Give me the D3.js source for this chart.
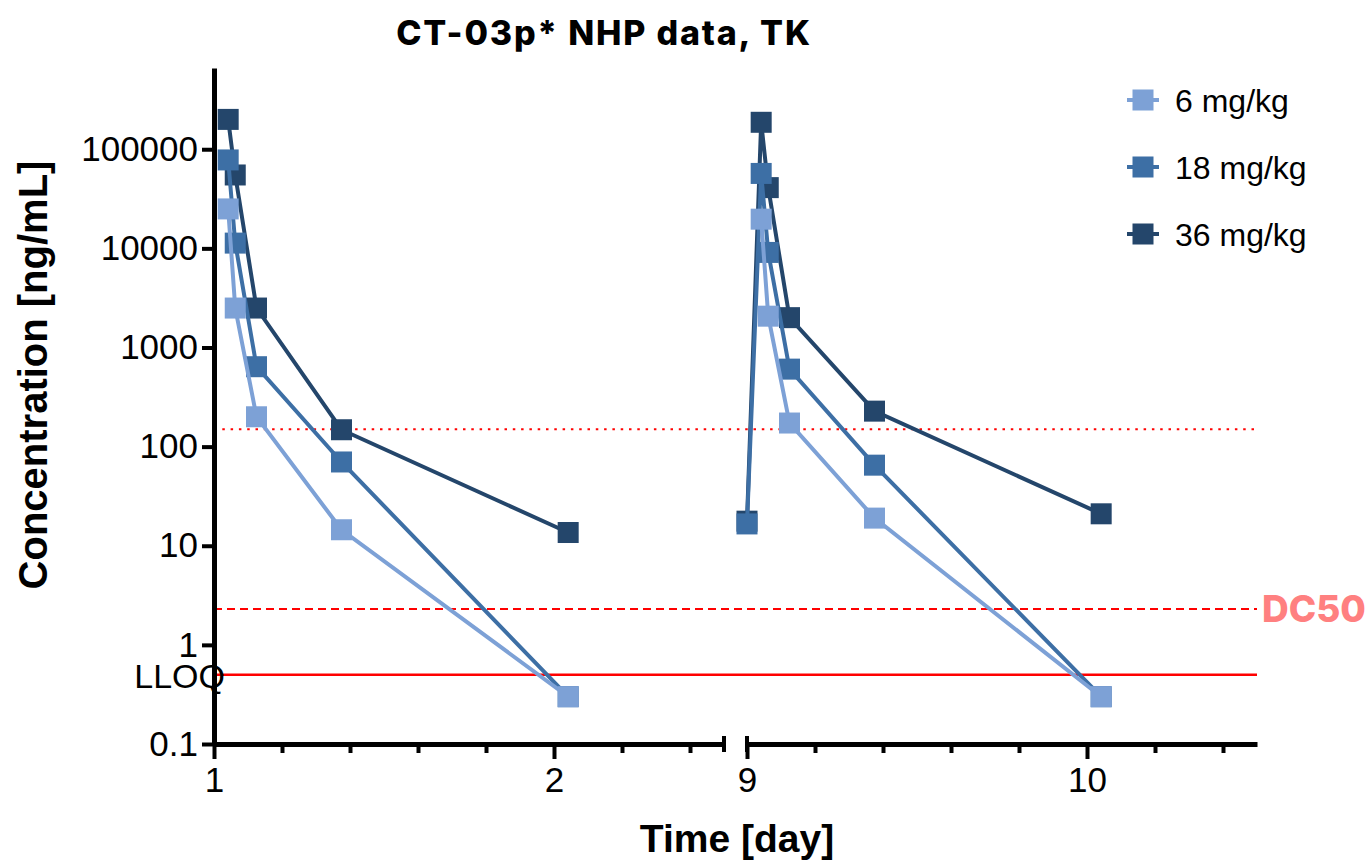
<!DOCTYPE html>
<html>
<head>
<meta charset="utf-8">
<script src="https://cdn.jsdelivr.net/npm/d3@7"></script>
<style>
  body { margin: 0; background: #fff; }
  text { font-family: "Liberation Sans", Arial, sans-serif; }
</style>
</head>
<body>
<script>
// sampling times in days (first dose panel, second dose panel)
var times1 = [1.0417, 1.0625, 1.125, 1.375, 2.0417];
var times2 = [9, 9.0417, 9.0625, 9.125, 9.375, 10.0417];

var doses = ["6 mg/kg", "18 mg/kg", "36 mg/kg"];
var colors = ["#7da1d6", "#3d6fa5", "#24466b"];

// plasma concentration, ng/mL (values below LLOQ plotted at 0.3)
var conc6_d1 = [25000, 2500, 200, 14.5, 0.3];
var conc6_d9 = [null, 19700, 2070, 173, 19, 0.3];
var conc18_d1 = [78000, 11300, 640, 70, 0.3];
var conc18_d9 = [16.6, 57000, 9100, 605, 65, 0.3];
var conc36_d1 = [200000, 55000, 2500, 148, 13.6];
var conc36_d9 = [17.7, 187000, 41000, 2000, 228, 21];

var yTicks = [0.1, 1, 10, 100, 1000, 10000, 100000];
var xMajor1 = [1, 2], xMinor1 = [1.2, 1.4, 1.6, 1.8, 2.2, 2.4];
var xMajor2 = [9, 10], xMinor2 = [9.2, 9.4, 9.6, 9.8, 10.2, 10.4];

var lloq = 0.5;
var dc50 = 2.3;
var dotted = 150;

var W = 1367, H = 862;
var svg = d3.select("body").append("svg")
            .attr("width", W)
            .attr("height", H);

// two broken x segments and a log y
var x1 = d3.scaleLinear().domain([1, 2.5]).range([214, 724]);
var x2 = d3.scaleLinear().domain([9, 10.5]).range([747, 1257]);
var y = d3.scaleLog().domain([0.1, 6.6e5]).range([744, 68]);

// reference lines
var refs = [
  {v: dotted, dash: "2.5,5.8", w: 2},
  {v: dc50, dash: "8,5", w: 2},
  {v: lloq, dash: null, w: 2.5}
];
svg.selectAll("line.ref")
   .data(refs)
   .enter().append("line")
   .attr("class", "ref")
   .attr("x1", x1(1))
   .attr("x2", x2(10.5))
   .attr("y1", function(d) { return y(d.v); })
   .attr("y2", function(d) { return y(d.v); })
   .attr("stroke", "#ff0000")
   .attr("stroke-width", function(d) { return d.w; })
   .attr("stroke-dasharray", function(d) { return d.dash; });

svg.append("text")
   .attr("x", 1262)
   .attr("y", y(dc50))
   .attr("dy", "0.36em")
   .style("font-family", "Inter, 'Open Sans', sans-serif")
   .style("font-weight", 800)
   .style("font-size", "37px")
   .attr("fill", "#ff8080")
   .text("DC50");

svg.append("text")
   .attr("x", 225)
   .attr("y", y(lloq))
   .attr("dy", "0.38em")
   .attr("text-anchor", "end")
   .style("font-size", "34px")
   .text("LLOQ");

// y axis
var yAxis = svg.append("g")
   .attr("transform", "translate(" + x1(1) + ",0)")
   .call(d3.axisLeft(y).tickValues(yTicks).tickSize(12).tickSizeOuter(0).tickPadding(4)
           .tickFormat(function(d) { return String(d); }));
yAxis.select(".domain").attr("stroke-width", 5);
yAxis.selectAll(".tick line").attr("stroke-width", 4);
yAxis.selectAll(".tick text").style("font-size", "35px").style("font-family", "'Liberation Sans', Arial, sans-serif");

// x axis segments
function drawX(scale, major, minor, capStart, capEnd) {
  var g = svg.append("g").attr("transform", "translate(0," + y(0.1) + ")");
  g.call(d3.axisBottom(scale).tickValues(major).tickSize(15).tickSizeOuter(0).tickPadding(8)
           .tickFormat(d3.format("d")));
  g.select(".domain").attr("stroke-width", 5);
  g.selectAll(".tick line").attr("stroke-width", 4);
  g.selectAll(".tick text").style("font-size", "35px").style("font-family", "'Liberation Sans', Arial, sans-serif");

  var m = svg.append("g").attr("transform", "translate(0," + y(0.1) + ")");
  m.call(d3.axisBottom(scale).tickValues(minor).tickSize(9).tickFormat(""));
  m.select(".domain").remove();
  m.selectAll(".tick line").attr("stroke-width", 4);

  var caps = [];
  if (capStart) caps.push(scale.domain()[0]);
  if (capEnd) caps.push(scale.domain()[1]);
  g.selectAll("line.cap")
   .data(caps)
   .enter().append("line")
   .attr("class", "cap")
   .attr("x1", function(d) { return scale(d); })
   .attr("x2", function(d) { return scale(d); })
   .attr("y1", -8)
   .attr("y2", 8)
   .attr("stroke", "#000")
   .attr("stroke-width", 4);
}
drawX(x1, xMajor1, xMinor1, false, true);
drawX(x2, xMajor2, xMinor2, true, false);

// series, darkest drawn first
var series = [
  {name: doses[0], color: colors[0], d1: conc6_d1, d9: conc6_d9},
  {name: doses[1], color: colors[1], d1: conc18_d1, d9: conc18_d9},
  {name: doses[2], color: colors[2], d1: conc36_d1, d9: conc36_d9}
];

function pts(times, vals) {
  return times.map(function(t, i) { return {t: t, v: vals[i]}; })
              .filter(function(d) { return d.v != null; });
}

var sq = 21;
series.slice().reverse().forEach(function(s) {
  var g = svg.append("g");
  [[x1, pts(times1, s.d1)], [x2, pts(times2, s.d9)]].forEach(function(p) {
    var sc = p[0], data = p[1];
    var line = d3.line()
                 .x(function(d) { return sc(d.t); })
                 .y(function(d) { return y(d.v); });
    g.append("path")
     .datum(data)
     .attr("d", line)
     .attr("fill", "none")
     .attr("stroke", s.color)
     .attr("stroke-width", 4);
    g.selectAll(null)
     .data(data)
     .enter().append("rect")
     .attr("x", function(d) { return sc(d.t) - sq / 2; })
     .attr("y", function(d) { return y(d.v) - sq / 2; })
     .attr("width", sq)
     .attr("height", sq)
     .attr("fill", s.color);
  });
});

// legend
var legend = svg.selectAll("g.legend")
                .data(series)
                .enter().append("g")
                .attr("class", "legend")
                .attr("transform", function(d, i) { return "translate(1143," + (100 + i * 67) + ")"; });
legend.append("line")
      .attr("x1", -16).attr("x2", 16)
      .attr("stroke", function(d) { return d.color; })
      .attr("stroke-width", 4);
legend.append("rect")
      .attr("x", -sq / 2).attr("y", -sq / 2)
      .attr("width", sq).attr("height", sq)
      .attr("fill", function(d) { return d.color; });
legend.append("text")
      .attr("x", 32)
      .attr("dy", "0.36em")
      .style("font-size", "32px")
      .text(function(d) { return d.name; });

// titles
svg.append("text")
   .attr("x", 604)
   .attr("y", 45)
   .attr("text-anchor", "middle")
   .style("font-family", "Inter, 'Open Sans', sans-serif")
   .style("font-weight", 800)
   .style("font-size", "34px")
   .style("letter-spacing", "1.8px")
   .text("CT-03p* NHP data, TK");

svg.append("text")
   .attr("x", 737)
   .attr("y", 852)
   .attr("text-anchor", "middle")
   .style("font-weight", "bold")
   .style("font-size", "39px")
   .text("Time [day]");

svg.append("text")
   .attr("transform", "translate(47,375) rotate(-90)")
   .attr("text-anchor", "middle")
   .style("font-weight", "bold")
   .style("font-size", "40px")
   .text("Concentration [ng/mL]");
</script>
</body>
</html>
